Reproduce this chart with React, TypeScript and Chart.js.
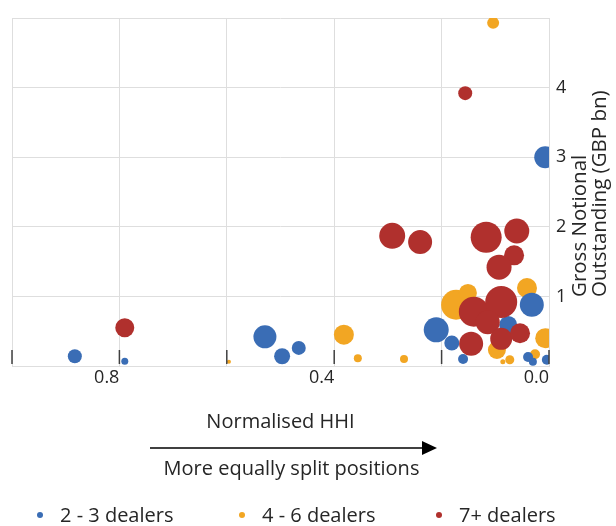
import React, { useEffect, useRef } from 'react';
import { Chart, registerables } from 'chart.js';

Chart.register(...registerables);

// ---------- data ----------
const seriesLabels = ['2 - 3 dealers', '4 - 6 dealers', '7+ dealers'];
const seriesColors = ['#3A6DB5', '#F2A623', '#B0302D'];

// [normalised HHI, gross notional (GBP bn), bubble radius]
const dealers2to3: [number, number, number][] = [
  [0.883, 0.14, 7],
  [0.79, 0.07, 3.5],
  [0.529, 0.42, 11.5],
  [0.497, 0.14, 8],
  [0.466, 0.26, 7],
  [0.21, 0.52, 12.5],
  [0.181, 0.33, 7.5],
  [0.16, 0.1, 5],
  [0.076, 0.59, 9],
  [0.032, 0.88, 12],
  [0.039, 0.13, 5],
  [0.03, 0.06, 4],
  [0.004, 0.09, 5],
  [0.007, 3.0, 11],
];

const dealers4to6: [number, number, number][] = [
  [0.596, 0.06, 2],
  [0.382, 0.45, 10],
  [0.356, 0.11, 4],
  [0.27, 0.1, 4],
  [0.173, 0.88, 15],
  [0.151, 1.05, 9],
  [0.097, 0.23, 9],
  [0.073, 0.09, 4.5],
  [0.086, 0.06, 2.5],
  [0.041, 1.12, 10],
  [0.026, 0.17, 5],
  [0.007, 0.4, 10],
  [0.104, 4.93, 6],
];

const dealers7plus: [number, number, number][] = [
  [0.79, 0.55, 9.5],
  [0.292, 1.87, 13],
  [0.24, 1.78, 12],
  [0.117, 1.85, 15.5],
  [0.06, 1.94, 12.5],
  [0.065, 1.59, 10],
  [0.093, 1.42, 12.5],
  [0.156, 3.92, 7],
  [0.14, 0.78, 15],
  [0.089, 0.92, 16],
  [0.114, 0.63, 12],
  [0.145, 0.32, 12],
  [0.089, 0.39, 11],
  [0.054, 0.47, 10],
];

const seriesData = [dealers2to3, dealers4to6, dealers7plus];
const seriesOrder = [1, 2, 0]; // red on top, then blue, then orange

const xTickLabels = [0.8, 0.4, 0.0];
const yTickLabels = [1, 2, 3, 4];
const xTitle = 'Normalised HHI';
const xSubtitle = 'More equally split positions';
const yTitleLines = ['Gross Notional', 'Outstanding (GBP bn)'];

// ---------- styling ----------
const FONT = "'Open Sans', 'Noto Sans', sans-serif";
const TEXT = '#262626';
const GRID = '#dedede';

const decorPlugin = {
  id: 'decor',
  afterDatasetsDraw(chart: any) {
    const { ctx, chartArea, scales } = chart;
    const xs = scales.x;
    ctx.save();
    ctx.strokeStyle = '#404040';
    ctx.lineWidth = 1.5;
    for (const t of xs.ticks) {
      const px = xs.getPixelForValue(t.value);
      ctx.beginPath();
      ctx.moveTo(px, chartArea.bottom - 16);
      ctx.lineTo(px, chartArea.bottom - 2);
      ctx.stroke();
    }
    ctx.restore();
  },
  afterDraw(chart: any) {
    const { ctx, chartArea } = chart;
    ctx.save();
    ctx.fillStyle = TEXT;

    // rotated y-axis title (reads bottom to top), start aligned
    ctx.save();
    ctx.font = `20.5px ${FONT}`;
    ctx.translate(chartArea.right + 37, chartArea.bottom - 69);
    ctx.rotate(-Math.PI / 2);
    ctx.textAlign = 'left';
    ctx.textBaseline = 'alphabetic';
    yTitleLines.forEach((line, i) => ctx.fillText(line, 0, i * 20));
    ctx.restore();

    ctx.font = `20px ${FONT}`;
    // arrow
    const ay = chartArea.bottom + 82;
    const ax0 = 150;
    const ax1 = 437;
    ctx.strokeStyle = '#000';
    ctx.lineWidth = 1.5;
    ctx.beginPath();
    ctx.moveTo(ax0, ay);
    ctx.lineTo(ax1 - 12, ay);
    ctx.stroke();
    ctx.fillStyle = '#000';
    ctx.beginPath();
    ctx.moveTo(ax1, ay);
    ctx.lineTo(ax1 - 15, ay - 7);
    ctx.lineTo(ax1 - 15, ay + 7);
    ctx.closePath();
    ctx.fill();

    // subtitle under the arrow
    ctx.fillStyle = TEXT;
    ctx.textAlign = 'center';
    ctx.textBaseline = 'alphabetic';
    ctx.fillText(xSubtitle, 291.5, chartArea.bottom + 109);

    // legend
    const legendX = [40, 242, 439];
    const legendY = 515;
    chart.data.datasets.forEach((ds: any, i: number) => {
      ctx.fillStyle = ds.backgroundColor;
      ctx.beginPath();
      ctx.arc(legendX[i], legendY, 3, 0, Math.PI * 2);
      ctx.fill();
      ctx.fillStyle = TEXT;
      ctx.textAlign = 'left';
      ctx.fillText(ds.label, legendX[i] + 20, legendY + 7);
    });
    ctx.restore();
  },
};

export default function App() {
  const ref = useRef<HTMLCanvasElement | null>(null);

  useEffect(() => {
    if (!ref.current) return;
    Chart.defaults.font.family = FONT;
    Chart.defaults.color = TEXT;
    const chart = new Chart(ref.current, {
      type: 'bubble',
      data: {
        datasets: seriesData.map((pts, i) => ({
          label: seriesLabels[i],
          data: pts.map(([x, y, r]) => ({ x, y, r })),
          backgroundColor: seriesColors[i],
          borderWidth: 0,
          order: seriesOrder[i],
        })),
      },
      options: {
        responsive: false,
        animation: false,
        events: [],
        layout: { autoPadding: false, padding: { top: 18, left: 12, right: 0, bottom: 0 } },
        plugins: {
          legend: { display: false },
          tooltip: { enabled: false },
        },
        scales: {
          x: {
            type: 'linear',
            min: 0,
            max: 1,
            reverse: true,
            grid: { color: GRID, drawTicks: false },
            border: { color: GRID },
            ticks: {
              stepSize: 0.2,
              align: 'end',
              padding: 1,
              color: TEXT,
              font: { size: 18 },
              callback: (v: any) =>
                xTickLabels.some((t) => Math.abs(t - Number(v)) < 1e-6) ? Number(v).toFixed(1) : '',
            },
            title: {
              display: true,
              text: xTitle,
              color: TEXT,
              font: { size: 20 },
              padding: { top: 0, bottom: 92 },
            },
            afterFit: (s: any) => {
              s.height = 160;
              s.paddingLeft = 0;
              s.paddingRight = 0;
            },
          },
          y: {
            type: 'linear',
            position: 'right',
            min: 0,
            max: 5,
            grid: { color: GRID, drawTicks: false },
            border: { color: GRID },
            ticks: {
              stepSize: 1,
              padding: 7,
              color: TEXT,
              font: { size: 18 },
              callback: (v: any) => (yTickLabels.includes(Number(v)) ? String(v) : ''),
            },
            afterFit: (s: any) => {
              s.width = 67;
              s.paddingTop = 0;
              s.paddingBottom = 0;
            },
          },
        },
      },
      plugins: [decorPlugin],
    });
    return () => chart.destroy();
  }, []);

  return (
    <div style={{ position: 'fixed', left: 0, top: 0, width: 616, height: 526, background: '#fff' }}>
      <canvas ref={ref} width={616} height={526} style={{ display: 'block' }} />
    </div>
  );
}
